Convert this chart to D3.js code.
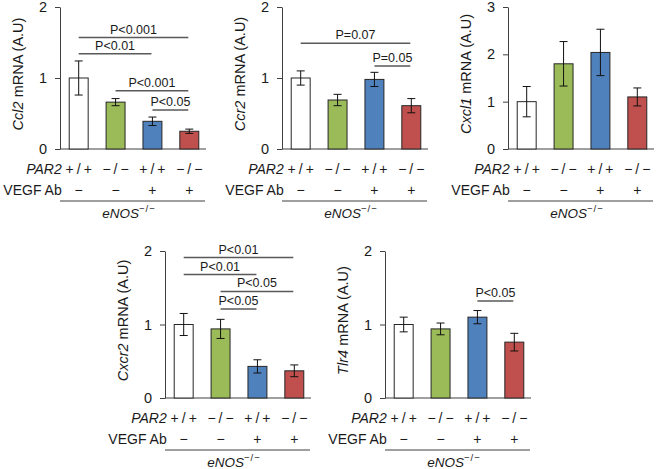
<!DOCTYPE html>
<html>
<head>
<meta charset="utf-8">
<script src="https://cdn.jsdelivr.net/npm/d3@7"></script>
<style>
  html, body { margin: 0; padding: 0; background: #fff; }
  svg { display: block; font-family: "Liberation Sans", Arial, sans-serif; }
</style>
</head>
<body>
<svg id="chart" width="656" height="469"></svg>
<script>
// qPCR panels: eNOS-/- mice, PAR2 genotype x VEGF antibody.
const geneNames = ["Ccl2", "Ccr2", "Cxcl1", "Cxcr2", "Tlr4"];
const yMax = [2, 2, 3, 2, 2];
const par2Labels = ["+/+", "\u2212/\u2212", "+/+", "\u2212/\u2212"];
const vegfLabels = ["\u2212", "\u2212", "+", "+"];
const groupColors = ["#ffffff", "#9bbb59", "#4f81bd", "#c0504d"];

const ccl2Mean = [1.0, 0.66, 0.39, 0.25];
const ccl2Err = [0.24, 0.05, 0.06, 0.03];
const ccr2Mean = [1.0, 0.69, 0.98, 0.61];
const ccr2Err = [0.10, 0.08, 0.10, 0.10];
const cxcl1Mean = [1.0, 1.80, 2.04, 1.10];
const cxcl1Err = [0.32, 0.47, 0.49, 0.19];
const cxcr2Mean = [1.0, 0.94, 0.43, 0.37];
const cxcr2Err = [0.15, 0.13, 0.09, 0.08];
const tlr4Mean = [1.0, 0.94, 1.10, 0.76];
const tlr4Err = [0.10, 0.08, 0.09, 0.12];

// [from group, to group, bracket height, label]
const ccl2Sig = [[0, 3, 1.57, "P<0.001"], [0, 2, 1.34, "P<0.01"], [1, 3, 0.82, "P<0.001"], [2, 3, 0.55, "P<0.05"]];
const ccr2Sig = [[0, 3, 1.49, "P=0.07"], [2, 3, 1.17, "P=0.05"]];
const cxcl1Sig = [];
const cxcr2Sig = [[0, 3, 1.91, "P<0.01"], [0, 2, 1.68, "P<0.01"], [1, 3, 1.45, "P<0.05"], [1, 2, 1.21, "P<0.05"]];
const tlr4Sig = [[2, 3, 1.32, "P<0.05"]];

const means = [ccl2Mean, ccr2Mean, cxcl1Mean, cxcr2Mean, tlr4Mean];
const errs = [ccl2Err, ccr2Err, cxcl1Err, cxcr2Err, tlr4Err];
const sigs = [ccl2Sig, ccr2Sig, cxcl1Sig, cxcr2Sig, tlr4Sig];

// panel placement: y axis x position, top and bottom of plot area
const layout = [
  { x: 60, top: 7, bottom: 149 },
  { x: 282, top: 7, bottom: 149 },
  { x: 508, top: 7, bottom: 149 },
  { x: 165, top: 251, bottom: 398 },
  { x: 385, top: 251, bottom: 398 },
];
const axisLen = 146;
const textCol = "#1a1a1a";

const svg = d3.select("#chart");

geneNames.forEach((gene, p) => {
  const L = layout[p];
  const g = svg.append("g");
  const groups = d3.range(4);

  const x = d3.scaleBand()
    .domain(groups)
    .range([L.x, L.x + 148])
    .paddingInner(0.486)
    .paddingOuter(0.25);
  const y = d3.scaleLinear().domain([0, yMax[p]]).range([L.bottom, L.top]);
  const cx = i => x(i) + x.bandwidth() / 2;

  // y axis
  const ax = g.append("g")
    .attr("transform", `translate(${L.x},0)`)
    .call(d3.axisLeft(y).tickValues(d3.range(0, yMax[p] + 1)).tickFormat(d3.format("d"))
      .tickSize(5).tickSizeOuter(0).tickPadding(8));
  ax.select(".domain").attr("stroke", "#404040");
  ax.selectAll(".tick line").attr("stroke", "#404040");
  ax.selectAll(".tick text").attr("font-size", 14.5).attr("fill", textCol)
    .attr("font-family", "Liberation Sans, Arial, sans-serif");

  // baseline
  g.append("line")
    .attr("x1", L.x).attr("x2", L.x + axisLen)
    .attr("y1", L.bottom).attr("y2", L.bottom)
    .attr("stroke", "#404040");

  // y label
  const yl = g.append("text")
    .attr("transform", `translate(${L.x - 41},${(L.top + L.bottom) / 2 - 4}) rotate(-90)`)
    .attr("text-anchor", "middle")
    .attr("dominant-baseline", "middle")
    .attr("font-size", 14.5)
    .attr("fill", textCol);
  yl.append("tspan").attr("font-style", "italic").text(gene);
  yl.append("tspan").text(" mRNA (A.U)");

  // bars
  g.selectAll(".bar").data(groups).join("rect")
    .attr("x", i => x(i))
    .attr("y", i => y(means[p][i]))
    .attr("width", x.bandwidth())
    .attr("height", i => L.bottom - y(means[p][i]))
    .attr("fill", i => groupColors[i])
    .attr("stroke", "#262626")
    .attr("stroke-width", 1);

  // error bars
  groups.forEach(i => {
    const m = means[p][i], e = errs[p][i];
    const eg = g.append("g").attr("stroke", "#111").attr("stroke-width", 1);
    eg.append("line").attr("x1", cx(i)).attr("x2", cx(i)).attr("y1", y(m - e)).attr("y2", y(m + e));
    [m - e, m + e].forEach(v => {
      eg.append("line").attr("x1", cx(i) - 4).attr("x2", cx(i) + 4).attr("y1", y(v)).attr("y2", y(v));
    });
  });

  // significance brackets
  sigs[p].forEach(([a, b, h, label]) => {
    const x1 = cx(a), x2 = cx(b) - 1;
    g.append("line")
      .attr("x1", x1).attr("x2", x2).attr("y1", y(h)).attr("y2", y(h))
      .attr("stroke", "#595959").attr("stroke-width", 1.5);
    g.append("text")
      .attr("x", (x1 + x2) / 2).attr("y", y(h) - 4)
      .attr("text-anchor", "middle")
      .attr("font-size", 12.5)
      .attr("fill", textCol)
      .text(label);
  });

  // genotype / treatment rows
  const labelEnd = cx(0) - 17;
  g.append("text")
    .attr("x", labelEnd).attr("y", L.bottom + 24.5)
    .attr("text-anchor", "end").attr("font-size", 14).attr("font-style", "italic")
    .attr("fill", textCol).text("PAR2");
  g.append("text")
    .attr("x", labelEnd).attr("y", L.bottom + 45.5)
    .attr("text-anchor", "end").attr("font-size", 14)
    .attr("fill", textCol).text("VEGF Ab");
  groups.forEach(i => {
    g.append("text")
      .attr("x", cx(i) + 1.5).attr("y", L.bottom + 24.5)
      .attr("text-anchor", "middle").attr("font-size", 14).attr("letter-spacing", 3)
      .attr("fill", textCol).text(par2Labels[i]);
    g.append("text")
      .attr("x", cx(i)).attr("y", L.bottom + 45.5)
      .attr("text-anchor", "middle").attr("font-size", 14)
      .attr("fill", textCol).text(vegfLabels[i]);
  });

  g.append("line")
    .attr("x1", L.x).attr("x2", L.x + axisLen - 1)
    .attr("y1", L.bottom + 52).attr("y2", L.bottom + 52)
    .attr("stroke", "#404040").attr("stroke-width", 1.2);

  const en = g.append("text")
    .attr("x", L.x + axisLen / 2 - 4).attr("y", L.bottom + 69)
    .attr("text-anchor", "middle").attr("font-size", 13.5)
    .attr("fill", textCol);
  en.append("tspan").attr("font-style", "italic").text("eNOS");
  en.append("tspan").attr("font-size", 9.5).attr("dy", -6).attr("letter-spacing", 1)
    .text("\u2212/\u2212");
});
</script>
</body>
</html>
